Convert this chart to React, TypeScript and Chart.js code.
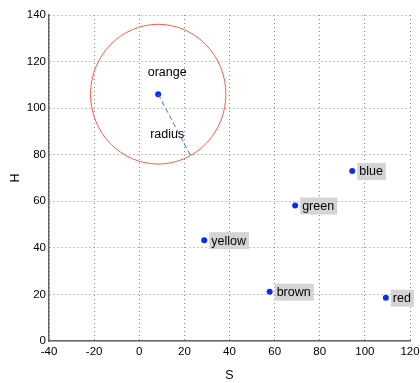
import React, { useEffect, useRef } from "react";
import { Chart, registerables } from "chart.js";

Chart.register(...registerables);

const colorNames = ["blue", "green", "yellow", "brown", "red"];
const sValues = [94.4, 69.1, 28.8, 57.8, 109.3];
const hValues = [73.0, 58.2, 43.3, 21.2, 18.6];

const centerName = ["orange"];
const centerS = [8.4];
const centerH = [106.0];
const circleRadius = [30];
const radiusEndS = [22.6];
const radiusEndH = [79.8];
const radiusLabel = ["radius"];

const xTicks = [-40, -20, 0, 20, 40, 60, 80, 100, 120];
const yTicks = [0, 20, 40, 60, 80, 100, 120, 140];

const FONT = "'Liberation Sans', Arial, Helvetica, sans-serif";

const overlayPlugin = {
  id: "overlay",
  afterDatasetsDraw(chart: any) {
    const ctx = chart.ctx;
    const xs = chart.scales.x;
    const ys = chart.scales.y;
    ctx.save();
    // circle
    const cx = xs.getPixelForValue(centerS[0]);
    const cy = ys.getPixelForValue(centerH[0]);
    const rx = Math.abs(xs.getPixelForValue(centerS[0] + circleRadius[0]) - cx);
    const ry = Math.abs(ys.getPixelForValue(centerH[0] + circleRadius[0]) - cy);
    ctx.beginPath();
    ctx.ellipse(cx, cy, rx, ry, 0, 0, Math.PI * 2);
    ctx.strokeStyle = "#ff5a48";
    ctx.lineWidth = 1;
    ctx.stroke();
    // center label
    ctx.font = "12.5px " + FONT;
    ctx.fillStyle = "#000";
    ctx.textAlign = "center";
    ctx.textBaseline = "middle";
    ctx.fillText(centerName[0], cx + 9, cy - 22);
    ctx.fillText(radiusLabel[0], cx + 9, cy + 40);
    // point labels with boxes
    ctx.textAlign = "left";
    for (let i = 0; i < colorNames.length; i++) {
      const px = xs.getPixelForValue(sValues[i]);
      const py = ys.getPixelForValue(hValues[i]);
      const w = ctx.measureText(colorNames[i]).width;
      ctx.fillStyle = "#d4d4d4";
      ctx.fillRect(px + 5, py - 8, w + 5, 17);
      ctx.fillStyle = "#000";
      ctx.fillText(colorNames[i], px + 7, py + 1);
    }
    ctx.restore();
  },
};

export default function App() {
  const ref = useRef<HTMLCanvasElement>(null);
  useEffect(() => {
    document.body.style.margin = "0";
    const chart = new Chart(ref.current!, {
      type: "scatter",
      data: {
        datasets: [
          {
            type: "line",
            data: [
              { x: centerS[0], y: centerH[0] },
              { x: radiusEndS[0], y: radiusEndH[0] },
            ],
            borderColor: "#3f6fff",
            borderWidth: 1,
            borderDash: [5, 3],
            pointRadius: 0,
            fill: false,
          } as any,
          {
            data: sValues.map((s, i) => ({ x: s, y: hValues[i] })).concat([{ x: centerS[0], y: centerH[0] }]),
            backgroundColor: "#0a2cff",
            borderColor: "#0a2cff",
            pointRadius: 3,
            borderWidth: 0,
          },
        ],
      },
      options: {
        animation: false,
        responsive: false,
        events: [],
        layout: { padding: { top: 15, right: 10, left: 0, bottom: 0 } },
        plugins: { legend: { display: false }, tooltip: { enabled: false } },
        scales: {
          x: {
            type: "linear",
            min: -40,
            max: 120,
            afterBuildTicks: (s: any) => {
              s.ticks = xTicks.map((v) => ({ value: v }));
            },
            afterFit: (s: any) => {
              s.height = 42;
              s.paddingRight = 0;
              s.paddingLeft = 0;
            },
            ticks: { color: "#000", font: { family: FONT, size: 11.5 }, padding: 4, maxRotation: 0 },
            grid: { color: "#8a8a8a", drawTicks: false, lineWidth: 1 },
            border: { display: true, color: "#666", width: 1.5, dash: [1, 3] },
            title: { display: true, text: "S", color: "#000", font: { family: FONT, size: 12.5 }, padding: { top: 11, bottom: 0 } },
          },
          y: {
            type: "linear",
            min: 0,
            max: 140,
            afterBuildTicks: (s: any) => {
              s.ticks = yTicks.map((v) => ({ value: v }));
            },
            afterFit: (s: any) => {
              s.width = 49;
            },
            ticks: { color: "#000", font: { family: FONT, size: 11.5 }, padding: 3 },
            grid: { color: "#8a8a8a", drawTicks: false, lineWidth: 1 },
            border: { display: true, color: "#666", width: 1.5, dash: [1, 3] },
            title: { display: true, text: "H", color: "#000", font: { family: FONT, size: 12.5 }, padding: { top: 8, bottom: 6 } },
          },
        },
      } as any,
      plugins: [overlayPlugin],
    });
    return () => chart.destroy();
  }, []);
  return <canvas ref={ref} width={420} height={383} style={{ display: "block" }} />;
}
